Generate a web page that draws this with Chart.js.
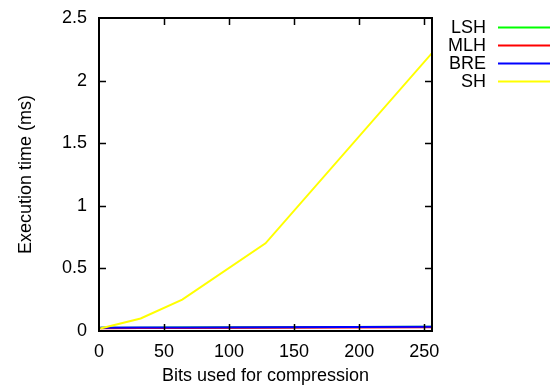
<!DOCTYPE html>
<html>
<head>
<meta charset="utf-8">
<script src="https://cdn.jsdelivr.net/npm/chart.js@4/dist/chart.umd.min.js"></script>
<style>
  html, body { margin: 0; padding: 0; background: #fff; }
  #wrap { width: 552px; height: 387px; }
</style>
</head>
<body>
<div id="wrap"><canvas id="timeChart" width="552" height="387"></canvas></div>
<script>
const bits = [1, 32, 64, 128, 256];
const lshTime = [0.025, 0.026, 0.027, 0.029, 0.033];
const mlhTime = [0.022, 0.023, 0.024, 0.026, 0.030];
const breTime = [0.026, 0.027, 0.028, 0.030, 0.034];
const shTime = [0.02, 0.10, 0.25, 0.70, 2.22];

const xTicks = [0, 50, 100, 150, 200, 250];
const yTicks = [0, 0.5, 1, 1.5, 2, 2.5];

const FONT = "'Liberation Sans', Arial, sans-serif";
const FONT_SIZE = 18;

function toPoints(ys) {
    return bits.map((x, i) => ({ x, y: ys[i] }));
}

// gnuplot-like border with inward ticks on all four sides
const borderTicks = {
    id: "borderTicks",
    afterDatasetsDraw(chart) {
        const { ctx, chartArea: a, scales } = chart;
        const len = 7;
        ctx.save();
        ctx.strokeStyle = "#000";
        ctx.lineWidth = 1.5;
        ctx.beginPath();
        xTicks.forEach(v => {
            const px = Math.round(scales.x.getPixelForValue(v)) + 0.5;
            if (v === 0) return;
            ctx.moveTo(px, a.bottom); ctx.lineTo(px, a.bottom - len);
            ctx.moveTo(px, a.top); ctx.lineTo(px, a.top + len);
        });
        yTicks.forEach(v => {
            const py = Math.round(scales.y.getPixelForValue(v)) + 0.5;
            if (v === 0 || v === 2.5) return;
            ctx.moveTo(a.left, py); ctx.lineTo(a.left + len, py);
            ctx.moveTo(a.right, py); ctx.lineTo(a.right - len, py);
        });
        ctx.stroke();
        ctx.lineWidth = 2;
        ctx.strokeRect(a.left, a.top, a.right - a.left, a.bottom - a.top);
        ctx.restore();
    }
};

// legend on the right: label right-aligned, then a line sample
const sideLegend = {
    id: "sideLegend",
    afterDraw(chart) {
        const { ctx } = chart;
        ctx.save();
        ctx.font = FONT_SIZE + "px " + FONT;
        ctx.textAlign = "right";
        ctx.textBaseline = "middle";
        chart.data.datasets.forEach((ds, i) => {
            const y = 27.5 + i * 18;
            ctx.fillStyle = "#000";
            ctx.fillText(ds.label, 486, y + 1);
            ctx.strokeStyle = ds.borderColor;
            ctx.lineWidth = 2;
            ctx.beginPath();
            ctx.moveTo(498, y);
            ctx.lineTo(550, y);
            ctx.stroke();
        });
        ctx.restore();
    }
};

const ctx = document.getElementById("timeChart").getContext("2d");

// higher order is drawn first, so SH ends up on top and LSH at the bottom
new Chart(ctx, {
    type: "line",
    data: {
        datasets: [
            { label: "LSH", data: toPoints(lshTime), borderColor: "#00ff00", order: 3 },
            { label: "MLH", data: toPoints(mlhTime), borderColor: "#ff0000", order: 2 },
            { label: "BRE", data: toPoints(breTime), borderColor: "#0000ff", order: 1 },
            { label: "SH", data: toPoints(shTime), borderColor: "#ffff00", order: 0 }
        ]
    },
    options: {
        responsive: false,
        animation: false,
        layout: { padding: { top: 18, right: 120, left: 0, bottom: 0 } },
        elements: {
            line: { borderWidth: 2, tension: 0, fill: false },
            point: { radius: 0 }
        },
        plugins: {
            legend: { display: false },
            tooltip: { enabled: false }
        },
        scales: {
            x: {
                type: "linear",
                min: 0,
                max: 256,
                afterBuildTicks: s => { s.ticks = xTicks.map(v => ({ value: v })); },
                afterFit: s => { s.height = 56; s.paddingLeft = 0; s.paddingRight = 0; },
                grid: { display: false, drawTicks: false },
                border: { display: false },
                ticks: {
                    color: "#000",
                    padding: 10,
                    maxRotation: 0,
                    font: { family: FONT, size: FONT_SIZE }
                },
                title: {
                    display: true,
                    text: "Bits used for compression",
                    color: "#000",
                    padding: { top: 0, bottom: 0 },
                    font: { family: FONT, size: FONT_SIZE }
                }
            },
            y: {
                min: 0,
                max: 2.5,
                afterBuildTicks: s => { s.ticks = yTicks.map(v => ({ value: v })); },
                afterFit: s => { s.width = 99; s.paddingTop = 0; s.paddingBottom = 0; },
                grid: { display: false, drawTicks: false },
                border: { display: false },
                ticks: {
                    color: "#000",
                    padding: 12,
                    font: { family: FONT, size: FONT_SIZE },
                    callback: v => String(v)
                },
                title: {
                    display: true,
                    text: "Execution time (ms)",
                    color: "#000",
                    padding: { top: 15, bottom: 0 },
                    font: { family: FONT, size: FONT_SIZE }
                }
            }
        }
    },
    plugins: [borderTicks, sideLegend]
});
</script>
</body>
</html>
